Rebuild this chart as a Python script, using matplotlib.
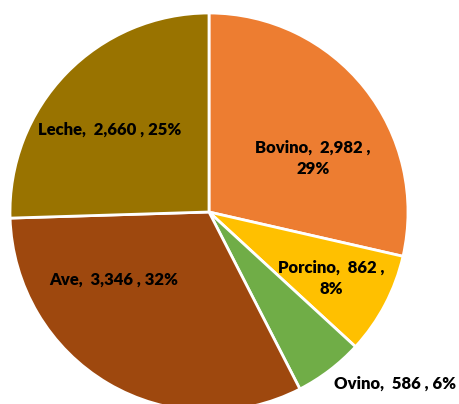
import matplotlib
matplotlib.use("Agg")
import matplotlib.pyplot as plt

categories = ["Bovino", "Porcino", "Ovino", "Ave", "Leche"]
values = [2982, 862, 586, 3346, 2660]
colors = ["#ED7D31", "#FFC000", "#70AD47", "#9E480E", "#997300"]

W, H = 459, 404
fig = plt.figure(figsize=(W/100, H/100), dpi=100)
cx, cy, r = 209, 212, 199
ax = fig.add_axes([(cx - r)/W, (H - cy - r)/H, 2*r/W, 2*r/H])
wedges, _ = ax.pie(values, colors=colors, startangle=90, counterclock=False,
                   radius=1, wedgeprops=dict(edgecolor="white", linewidth=2))
for w in wedges:
    w.set_clip_on(False)
ax.set_xlim(-1, 1)
ax.set_ylim(-1, 1)
ax.axis("off")

total = sum(values)
pos = {"Bovino": (313, 158), "Porcino": (331, 278), "Ovino": (395, 384),
       "Ave": (114, 280), "Leche": (110, 130)}
wrap = {"Bovino": True, "Porcino": True}
for c, v in zip(categories, values):
    pct = round(100 * v / total)
    if wrap.get(c):
        s = f"{c},  {v:,} ,\n{pct}%"
    else:
        s = f"{c},  {v:,} , {pct}%"
    x, y = pos[c]
    fig.text(x / W, 1 - y / H, s, ha="center", va="center", fontsize=12,
             fontweight="heavy", family="Lato", linespacing=1.42)

fig.savefig("out.png", dpi=100)
